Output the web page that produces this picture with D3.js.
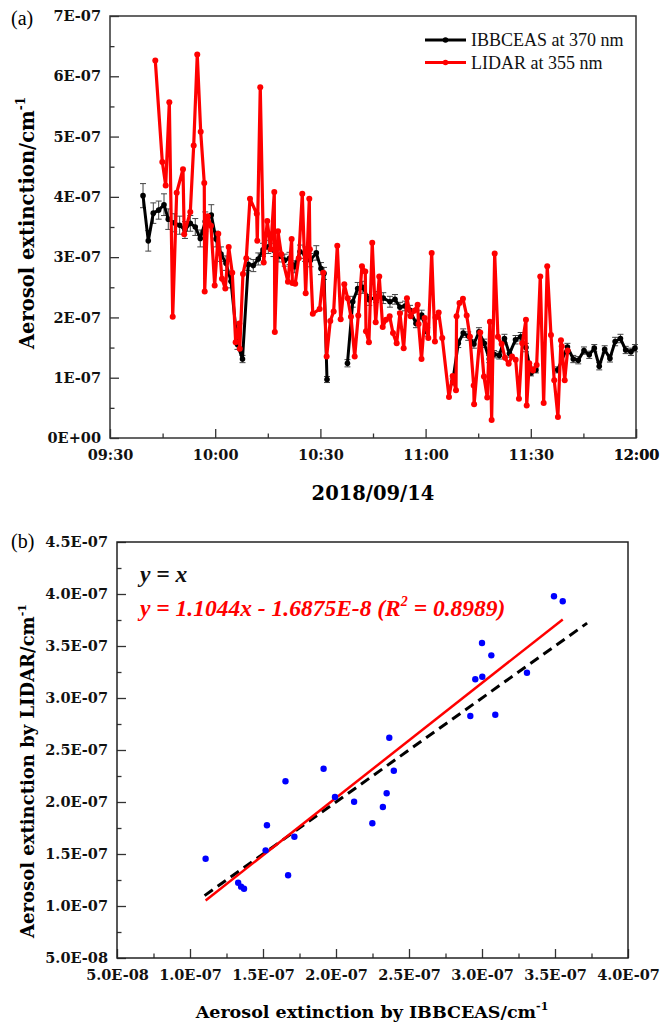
<!DOCTYPE html>
<html>
<head>
<meta charset="utf-8">
<script src="https://cdnjs.cloudflare.com/ajax/libs/d3/7.8.5/d3.min.js"></script>
<style>
  body { margin: 0; background: #fff; }
  .tick text { font-family: "DejaVu Serif", serif; font-weight: bold; font-size: 14.5px; fill: #111; }
  .tick line { stroke: #333; stroke-width: 1.3; }
</style>
</head>
<body>
<div id="chart"></div>
<script>
// (a) time series, values in units of 1E-07 cm-1
let ibbTimes = ["09:39:25","09:40:55","09:42:21","09:43:53","09:45:24","09:46:37","09:48:20","09:49:52","09:51:23","09:52:54",
  "09:54:19","09:55:45","09:57:10","09:58:53","10:00:14","10:01:39","10:03:05","10:04:30","10:06:21","10:07:47",
  "10:09:26","10:10:52","10:12:17","10:13:38","10:15:08","10:16:37","10:18:11","10:19:49","10:21:11","10:22:40",
  "10:24:11","10:25:36","10:27:10","10:28:50","10:30:10","10:31:02","10:31:53","10:37:43","10:39:13","10:40:38",
  "10:42:04","10:43:56","10:45:51","10:47:56","10:49:50","10:51:16","10:52:41","10:54:07","10:55:33","10:57:15",
  "10:58:53","11:00:29","11:07:43","11:09:19","11:10:44","11:12:10","11:13:47","11:15:13","11:16:44","11:18:09",
  "11:19:30","11:21:01","11:22:29","11:23:55","11:25:38","11:27:07","11:28:37","11:30:03","11:31:28","11:37:40",
  "11:40:27","11:42:07","11:43:32","11:45:10","11:46:40","11:48:06","11:49:31","11:51:04","11:52:34","11:54:03",
  "11:55:34","11:57:03","11:58:34","11:59:42"];
let ibbValues = [4.02,3.27,3.73,3.78,3.87,3.63,3.57,3.53,3.45,3.56,
  3.50,3.31,3.59,3.70,3.30,3.05,2.90,2.60,1.55,1.31,
  2.88,2.86,2.97,3.12,3.17,3.12,3.02,2.95,2.98,2.84,
  3.09,3.05,2.95,3.07,2.81,2.73,0.97,1.24,2.26,2.48,
  2.50,2.29,2.34,2.32,2.26,2.30,2.17,2.19,2.12,1.90,
  2.04,1.76,0.93,1.57,1.74,1.69,1.56,1.76,1.57,1.31,
  1.39,1.37,1.65,1.40,1.63,1.68,1.50,1.08,1.13,1.13,
  1.51,1.31,1.29,1.45,1.38,1.49,1.19,1.47,1.32,1.60,
  1.65,1.46,1.43,1.49];
let ibbErrors = [0.20,0.17,0.17,0.15,0.18,0.17,0.15,0.15,0.14,0.13,
  0.14,0.14,0.16,0.17,0.13,0.12,0.12,0.11,0.08,0.06,
  0.10,0.10,0.10,0.11,0.11,0.11,0.10,0.10,0.10,0.10,
  0.11,0.12,0.11,0.12,0.10,0.10,0.05,0.06,0.09,0.10,
  0.10,0.09,0.09,0.09,0.09,0.08,0.08,0.08,0.08,0.07,
  0.08,0.07,0.05,0.07,0.07,0.07,0.07,0.07,0.07,0.06,
  0.06,0.06,0.07,0.06,0.07,0.07,0.07,0.05,0.05,0.05,
  0.06,0.06,0.06,0.06,0.06,0.06,0.06,0.06,0.06,0.07,
  0.07,0.06,0.06,0.06];

let lidarTimes = ["09:42:55","09:44:55","09:45:53","09:46:55","09:47:53","09:49:01","09:50:49","09:51:10","09:52:54","09:53:52",
  "09:54:53","09:55:52","09:56:53","09:57:00","09:57:52","09:58:48","09:59:51","10:00:53","10:01:56","10:02:53",
  "10:03:51","10:04:52","10:05:50","10:06:52","10:07:00","10:07:55","10:08:52","10:09:55","10:11:50","10:12:00",
  "10:12:51","10:13:50","10:14:51","10:15:49","10:16:51","10:17:00","10:17:54","10:18:51","10:20:45","10:21:48",
  "10:22:00","10:22:49","10:23:49","10:24:50","10:25:48","10:26:50","10:27:00","10:27:50","10:29:47","10:30:49",
  "10:31:47","10:32:49","10:33:47","10:34:49","10:35:47","10:36:49","10:37:47","10:38:43","10:39:47","10:40:48",
  "10:41:51","10:42:48","10:43:00","10:43:50","10:44:47","10:45:46","10:46:47","10:47:46","10:48:42","10:49:45",
  "10:50:42","10:51:45","10:52:41","10:53:45","10:54:41","10:55:44","10:56:46","10:57:44","10:58:00","10:58:50",
  "10:59:44","11:00:46","11:01:44","11:02:40","11:02:50","11:03:44","11:04:45","11:06:40","11:07:43","11:08:40",
  "11:08:50","11:09:40","11:10:39","11:11:43","11:12:39","11:13:43","11:13:50","11:15:35","11:16:38","11:17:35",
  "11:18:20","11:18:50","11:19:42","11:20:38","11:21:41","11:22:38","11:23:41","11:24:38","11:25:41","11:26:37",
  "11:27:34","11:28:37","11:28:50","11:29:34","11:30:37","11:31:40","11:32:42","11:33:40","11:34:41","11:35:45",
  "11:36:41","11:37:44","11:38:36","11:38:50","11:39:40","11:40:30"];
let lidarValues = [6.26,4.58,4.19,5.57,2.01,4.07,4.46,3.38,3.75,4.85,
  6.36,5.08,4.23,2.43,3.68,3.52,2.53,3.39,2.64,2.48,
  3.17,2.74,1.59,1.90,1.48,2.72,2.98,3.97,3.72,3.27,
  5.82,2.91,3.60,3.13,4.08,1.76,3.43,3.05,2.59,3.30,
  2.57,2.56,2.98,4.05,2.40,3.97,3.13,2.06,2.14,2.74,
  1.35,1.94,2.10,3.19,1.97,2.55,2.32,2.01,1.35,2.03,
  2.85,2.76,1.77,1.59,3.24,1.92,2.68,1.84,1.96,2.02,
  1.74,1.57,2.07,1.49,2.32,2.02,2.11,2.21,1.89,1.31,
  1.99,1.66,3.07,1.60,2.00,2.08,1.66,0.68,1.03,0.79,
  2.02,2.24,2.31,2.03,1.68,0.87,0.56,1.75,1.02,0.67,
  1.93,0.30,3.06,1.68,1.56,1.33,1.23,1.35,1.30,0.65,
  1.57,1.96,0.54,1.24,1.12,1.21,2.68,0.58,2.85,1.71,
  0.96,0.35,1.62,1.52,0.96,1.45];

// (b) scatter, units of 1E-07 cm-1
let ibbScatter = [1.107,1.330,1.350,1.370,1.518,1.527,1.654,1.672,1.715,1.915,1.993,2.124,2.249,
  2.321,2.347,2.396,2.365,2.920,2.954,3.000,3.002,3.064,3.091,3.308,3.493,3.553];
let lidarScatter = [1.455,1.224,1.186,1.166,1.535,1.776,2.199,1.295,1.666,2.320,2.048,2.003,1.795,
  1.952,2.084,2.301,2.618,2.827,3.180,3.529,3.205,3.410,2.839,3.243,3.978,3.930];
let fitSlope = 1.1044, fitIntercept = -0.16875;
let identityRange = [1.10, 3.72];

const svg = d3.select("#chart").append("svg")
  .attr("width", 660)
  .attr("height", 1026);

const serif = "'Liberation Serif', 'Times New Roman', serif";
const boldSerif = "'DejaVu Serif', serif";

// ---------- panel (a) ----------
let a = {left: 110, right: 636, top: 16, bottom: 438};
let parseT = d3.timeParse("%H:%M:%S");

let xa = d3.scaleTime()
  .domain([parseT("09:30:00"), parseT("12:00:00")])
  .range([a.left, a.right]);
let ya = d3.scaleLinear()
  .domain([0, 7])
  .range([a.bottom, a.top]);

let ibb = ibbTimes.map((t, i) => ({t: parseT(t), v: ibbValues[i], e: ibbErrors[i]}));
let lidar = lidarTimes.map((t, i) => ({t: parseT(t), v: lidarValues[i]}));

// the IBBCEAS line breaks where samples are missing (> 4 min apart)
let ibbPath = [];
ibb.forEach(function(d, i) {
  if (i > 0 && d.t - ibb[i - 1].t > 4 * 60000) ibbPath.push(null);
  ibbPath.push(d);
});

let majorT = d3.range(0, 6).map(i => new Date(xa.domain()[0].getTime() + i * 30 * 60000)).concat([xa.domain()[1]]);
let minorT = d3.range(0, 5).map(i => new Date(xa.domain()[0].getTime() + (i * 30 + 15) * 60000));

svg.append("g")
  .attr("transform", "translate(0," + a.bottom + ")")
  .call(d3.axisBottom(xa).tickValues(majorT).tickSize(-9).tickPadding(12).tickFormat(d3.timeFormat("%H:%M")))
  .call(g => g.select(".domain").remove());
svg.append("g")
  .attr("transform", "translate(0," + a.bottom + ")")
  .call(d3.axisBottom(xa).tickValues(minorT).tickSize(-4.5).tickFormat(""))
  .call(g => g.select(".domain").remove());

svg.append("g")
  .attr("transform", "translate(" + a.left + ",0)")
  .call(d3.axisLeft(ya).ticks(7).tickSize(-9).tickPadding(9)
    .tickFormat(d => d === 0 ? "0E+00" : d + "E-07"))
  .call(g => g.select(".domain").remove());
svg.append("g")
  .attr("transform", "translate(" + a.left + ",0)")
  .call(d3.axisLeft(ya).tickValues(d3.range(0.5, 7, 1)).tickSize(-4.5).tickFormat(""))
  .call(g => g.select(".domain").remove());

svg.append("rect")
  .attr("x", a.left).attr("y", a.top)
  .attr("width", a.right - a.left).attr("height", a.bottom - a.top)
  .attr("fill", "none").attr("stroke", "#333").attr("stroke-width", 1.5);

// error bars
let eb = svg.append("g").attr("stroke", "#444").attr("stroke-width", 1);
ibb.forEach(function(d) {
  let x = xa(d.t);
  eb.append("line").attr("x1", x).attr("x2", x).attr("y1", ya(d.v - d.e)).attr("y2", ya(d.v + d.e));
  eb.append("line").attr("x1", x - 3).attr("x2", x + 3).attr("y1", ya(d.v - d.e)).attr("y2", ya(d.v - d.e));
  eb.append("line").attr("x1", x - 3).attr("x2", x + 3).attr("y1", ya(d.v + d.e)).attr("y2", ya(d.v + d.e));
});

let lineA = d3.line().defined(d => d !== null).x(d => xa(d.t)).y(d => ya(d.v));

svg.append("path").datum(ibbPath)
  .attr("d", lineA).attr("fill", "none").attr("stroke", "#000").attr("stroke-width", 3)
  .attr("stroke-linejoin", "round");
svg.append("g").selectAll("circle").data(ibb).enter().append("circle")
  .attr("cx", d => xa(d.t)).attr("cy", d => ya(d.v)).attr("r", 2.8).attr("fill", "#000");

svg.append("path").datum(lidar)
  .attr("d", lineA).attr("fill", "none").attr("stroke", "#ff0000").attr("stroke-width", 3.2)
  .attr("stroke-linejoin", "round");
svg.append("g").selectAll("circle").data(lidar).enter().append("circle")
  .attr("cx", d => xa(d.t)).attr("cy", d => ya(d.v)).attr("r", 3).attr("fill", "#ff0000");

// legend
let legend = svg.append("g");
[["IBBCEAS at 370 nm", "#000"], ["LIDAR at 355 nm", "#ff0000"]].forEach(function(item, i) {
  let y = 40 + i * 22.5;
  legend.append("line").attr("x1", 425).attr("x2", 466).attr("y1", y).attr("y2", y)
    .attr("stroke", item[1]).attr("stroke-width", 3);
  legend.append("circle").attr("cx", 445.5).attr("cy", y).attr("r", 2.8).attr("fill", item[1]);
  legend.append("text").text(item[0]).attr("x", 471).attr("y", y + 6)
    .style("font-family", serif).style("font-size", "18px").attr("fill", "#111");
});

svg.append("text").text("(a)")
  .attr("x", 11).attr("y", 25)
  .style("font-family", serif).style("font-size", "20px");

svg.append("text").text("2018/09/14")
  .attr("x", (a.left + a.right) / 2).attr("y", 500)
  .attr("text-anchor", "middle")
  .style("font-family", boldSerif).style("font-weight", "bold").style("font-size", "19.5px");

let ytA = svg.append("text")
  .attr("transform", "translate(34," + 223 + ") rotate(-90)")
  .attr("text-anchor", "middle")
  .style("font-family", boldSerif).style("font-weight", "bold").style("font-size", "19.5px");
ytA.append("tspan").text("Aerosol extinction/cm");
ytA.append("tspan").text("-1").attr("dy", -9).style("font-size", "12px");

// ---------- panel (b) ----------
let b = {left: 117, right: 628, top: 542, bottom: 958};
let xb = d3.scaleLinear().domain([0.5, 4.0]).range([b.left, b.right]);
let yb = d3.scaleLinear().domain([0.5, 4.5]).range([b.bottom, b.top]);
let fmtB = d => d === 0.5 ? "5.0E-08" : d.toFixed(1) + "E-07";

svg.append("g")
  .attr("transform", "translate(0," + b.bottom + ")")
  .call(d3.axisBottom(xb).tickValues(d3.range(0.5, 4.01, 0.5)).tickSize(-9).tickPadding(12).tickFormat(fmtB))
  .call(g => g.select(".domain").remove());
svg.append("g")
  .attr("transform", "translate(0," + b.bottom + ")")
  .call(d3.axisBottom(xb).tickValues(d3.range(0.75, 4, 0.5)).tickSize(-4.5).tickFormat(""))
  .call(g => g.select(".domain").remove());
svg.append("g")
  .attr("transform", "translate(" + b.left + ",0)")
  .call(d3.axisLeft(yb).tickValues(d3.range(0.5, 4.51, 0.5)).tickSize(-9).tickPadding(9).tickFormat(fmtB))
  .call(g => g.select(".domain").remove());
svg.append("g")
  .attr("transform", "translate(" + b.left + ",0)")
  .call(d3.axisLeft(yb).tickValues(d3.range(0.75, 4.5, 0.5)).tickSize(-4.5).tickFormat(""))
  .call(g => g.select(".domain").remove());

svg.append("rect")
  .attr("x", b.left).attr("y", b.top)
  .attr("width", b.right - b.left).attr("height", b.bottom - b.top)
  .attr("fill", "none").attr("stroke", "#222").attr("stroke-width", 1.5);

svg.append("line")
  .attr("x1", xb(identityRange[0])).attr("y1", yb(identityRange[0]))
  .attr("x2", xb(identityRange[1])).attr("y2", yb(identityRange[1]))
  .attr("stroke", "#000").attr("stroke-width", 3).attr("stroke-dasharray", "10,6");

let fitX = d3.extent(ibbScatter);
svg.append("line")
  .attr("x1", xb(fitX[0])).attr("y1", yb(fitSlope * fitX[0] + fitIntercept))
  .attr("x2", xb(fitX[1])).attr("y2", yb(fitSlope * fitX[1] + fitIntercept))
  .attr("stroke", "#ff0000").attr("stroke-width", 2.5);

svg.append("g").selectAll("circle").data(ibbScatter).enter().append("circle")
  .attr("cx", d => xb(d)).attr("cy", (d, i) => yb(lidarScatter[i]))
  .attr("r", 3.2).attr("fill", "#0000ff");

svg.append("text").text("y = x")
  .attr("x", 140).attr("y", 582)
  .style("font-family", serif).style("font-weight", "bold").style("font-style", "italic")
  .style("font-size", "23.5px").attr("fill", "#111");
let fitText = svg.append("text")
  .attr("x", 140).attr("y", 616)
  .style("font-family", serif).style("font-weight", "bold").style("font-style", "italic")
  .style("font-size", "23.5px").attr("fill", "#ff0000");
fitText.append("tspan").text("y = " + fitSlope + "x - 1.6875E-8 (R");
fitText.append("tspan").text("2").attr("dy", -10).style("font-size", "14px");
fitText.append("tspan").text(" = 0.8989)").attr("dy", 10);

svg.append("text").text("(b)")
  .attr("x", 11).attr("y", 548)
  .style("font-family", serif).style("font-size", "20px");

let xtB = svg.append("text")
  .attr("x", 372).attr("y", 1018)
  .attr("text-anchor", "middle")
  .style("font-family", boldSerif).style("font-weight", "bold").style("font-size", "17.5px");
xtB.append("tspan").text("Aerosol extinction by IBBCEAS/cm");
xtB.append("tspan").text("-1").attr("dy", -8).style("font-size", "11px");

let ytB = svg.append("text")
  .attr("transform", "translate(34," + 771 + ") rotate(-90)")
  .attr("text-anchor", "middle")
  .style("font-family", boldSerif).style("font-weight", "bold").style("font-size", "18px");
ytB.append("tspan").text("Aerosol extinction by LIDAR/cm");
ytB.append("tspan").text("-1").attr("dy", -8).style("font-size", "11px");
</script>
</body>
</html>
